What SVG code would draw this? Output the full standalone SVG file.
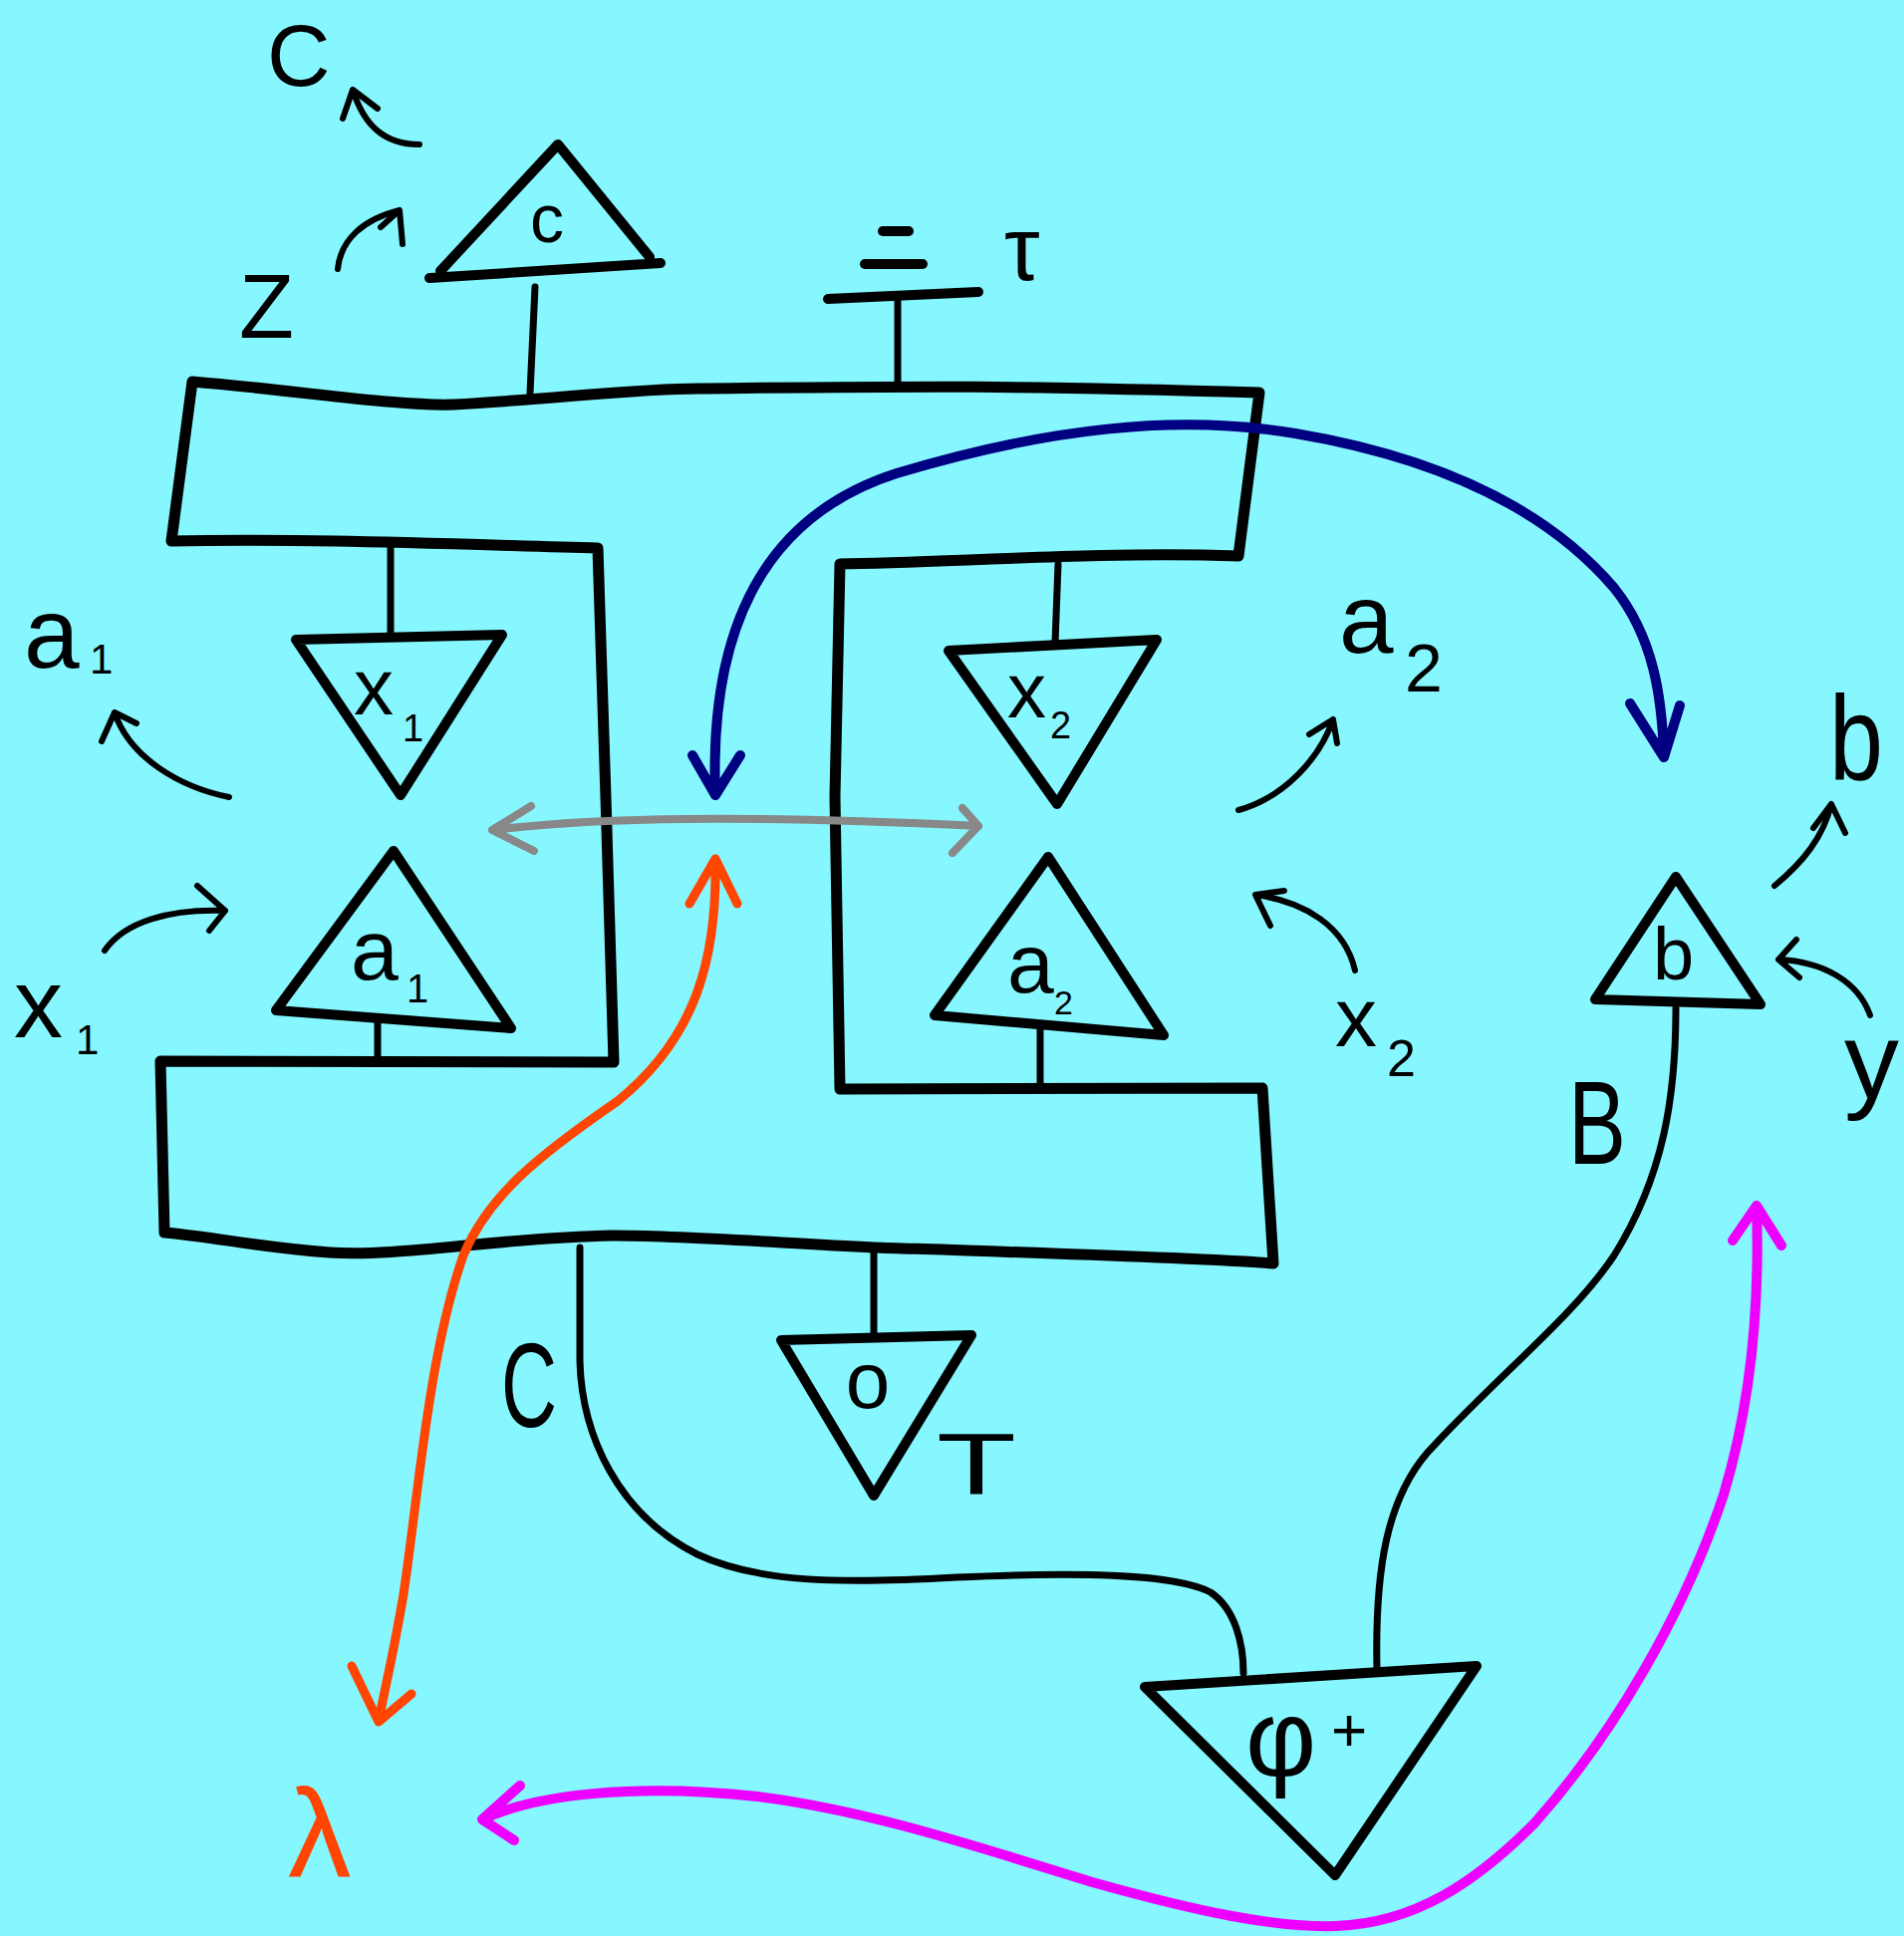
<svg xmlns="http://www.w3.org/2000/svg" width="1911" height="1943" viewBox="0 0 1911 1943">
<style>
.s{fill:none;stroke:#000;stroke-linecap:round;stroke-linejoin:round}
.big{stroke-width:11}
.tri{stroke-width:10}
.wire{stroke-width:7}
.arr{stroke-width:6}
.t{font-family:"Liberation Sans","DejaVu Sans",sans-serif;fill:#000}
.blue{fill:none;stroke:#000080;stroke-width:10;stroke-linecap:round;stroke-linejoin:round}
.orange{fill:none;stroke:#FF4500;stroke-width:9;stroke-linecap:round;stroke-linejoin:round}
.mag{fill:none;stroke:#EE00FF;stroke-width:10;stroke-linecap:round;stroke-linejoin:round}
.gray{fill:none;stroke:#888;stroke-width:8;stroke-linecap:round;stroke-linejoin:round}
</style>
<rect x="0" y="0" width="1911" height="1943" fill="#87F7FF"/>

<g id="frame">
<path class="s big" d="M193,383 C300,392 400,408 456,406 C560,400 640,390 701,390 C900,388 1000,386 1264,394 L1243,558 C1100,553 950,565 843,566 L838,800 L843,1093 L1267,1092 L1278,1268 C1200,1262 1000,1256 877,1252 C760,1246 680,1240 615,1240 C500,1242 400,1262 331,1257 C260,1252 220,1242 165,1237 L161,1065 L616,1066 L608,800 L600,550 C450,546 300,540 172,543 Z"/>
</g>

<g id="node-c">
<path class="s tri" d="M431,279 L663,264 M442,272 L560,145 L652,258"/>
<line class="s wire" x1="537" y1="288" x2="532" y2="394"/>
<text class="t" x="549" y="243" font-size="68" text-anchor="middle">c</text>
</g>

<g id="node-discard">
<line class="s tri" x1="886" y1="232" x2="912" y2="232"/>
<line class="s tri" x1="868" y1="265" x2="926" y2="265"/>
<line class="s tri" x1="831" y1="300" x2="982" y2="293"/>
<line class="s wire" x1="901" y1="302" x2="901" y2="383"/>
</g>

<g id="node-x1">
<path class="s tri" d="M297,642 L504,637 L402,798 Z"/>
<line class="s wire" x1="392" y1="550" x2="392" y2="637"/>
<text class="t" x="355" y="717" font-size="80">x<tspan x="404" y="744" font-size="38">1</tspan></text>
</g>

<g id="node-a1">
<path class="s tri" d="M395,854 L277,1014 L513,1032 Z"/>
<line class="s wire" x1="379" y1="1023" x2="379" y2="1066"/>
<text class="t" x="352" y="983" font-size="86">a<tspan x="408" y="1006" font-size="40">1</tspan></text>
</g>

<g id="node-x2">
<path class="s tri" d="M952,653 L1161,642 L1061,807 Z"/>
<line class="s wire" x1="1062" y1="566" x2="1059" y2="645"/>
<text class="t" x="1011" y="720" font-size="78">x<tspan x="1054" y="741" font-size="38">2</tspan></text>
</g>

<g id="node-a2">
<path class="s tri" d="M1052,860 L938,1019 L1168,1039 Z"/>
<line class="s wire" x1="1044" y1="1030" x2="1044" y2="1092"/>
<text class="t" x="1011" y="996" font-size="84">a<tspan x="1058" y="1018" font-size="34">2</tspan></text>
</g>

<g id="node-o">
<path class="s tri" d="M784,1345 L975,1340 L877,1501 Z"/>
<line class="s wire" x1="877" y1="1252" x2="877" y2="1342"/>
<text class="t" x="871" y="1413" font-size="80" text-anchor="middle">o</text>
</g>

<g id="node-b">
<path class="s tri" d="M1682,880 L1601,1003 L1767,1008 Z"/>
<text class="t" x="1659" y="983" font-size="74">b</text>
</g>

<g id="node-phi">
<path class="s tri" d="M1149,1693 L1482,1672 L1340,1882 Z"/>
<text class="t" x="1250" y="1782" font-size="110">φ<tspan x="1336" y="1757" font-size="62">+</tspan></text>
</g>

<g id="connectors">
<path class="s wire" d="M582,1252 L582,1366 C584,1440 620,1520 700,1560 C760,1588 840,1590 960,1583 C1090,1577 1180,1580 1215,1598 C1240,1615 1248,1650 1248,1679"/>
<path class="s wire" d="M1382,1675 C1380,1580 1390,1500 1440,1450 C1510,1375 1580,1320 1620,1260 C1670,1180 1682,1100 1682,1012"/>
<path class="s arr" d="M421,145 C385,145 365,125 354,90 M344,119 L354,90 L379,109"/>
<path class="s arr" d="M339,270 C342,240 365,220 401,211 M382,228 L401,211 L404,245"/>
<path class="s arr" d="M230,800 C180,790 130,760 115,715 M102,744 L115,715 L137,726"/>
<path class="s arr" d="M105,954 C125,925 170,912 226,914 M198,889 L226,914 L210,934"/>
<path class="s arr" d="M1243,813 C1290,800 1325,760 1338,722 M1314,737 L1338,722 L1342,746"/>
<path class="s arr" d="M1360,974 C1350,930 1310,905 1260,898 M1289,894 L1260,898 L1275,929"/>
<path class="s arr" d="M1781,889 C1810,865 1830,840 1838,807 M1820,831 L1838,807 L1852,836"/>
<path class="s arr" d="M1877,1019 C1865,985 1830,965 1785,963 M1803,943 L1785,963 L1806,981"/>
<path class="gray" d="M494,833 C600,820 750,818 982,829 M533,809 L494,833 L536,854 M966,811 L982,829 L956,856"/>
<path class="blue" d="M718,798 C712,640 760,520 900,475 C1050,430 1180,415 1300,435 C1460,462 1560,520 1620,590 C1660,640 1668,700 1670,758 M695,758 L718,798 L743,758 M1636,706 L1670,760 L1686,708"/>
<path class="orange" d="M718,862 C720,960 700,1040 620,1105 C540,1160 490,1200 465,1260 C430,1360 420,1500 405,1600 C395,1660 385,1700 380,1728 M692,907 L718,862 L740,907 M353,1672 L380,1728 L413,1700"/>
<path class="mag" d="M484,1826 C540,1800 640,1790 760,1803 C880,1818 1000,1860 1100,1890 C1200,1918 1280,1935 1341,1933 C1420,1930 1480,1890 1540,1830 C1620,1740 1690,1620 1730,1500 C1760,1400 1766,1300 1763,1212 M522,1792 L484,1826 L516,1847 M1739,1245 L1763,1210 L1788,1250"/>
</g>

<g id="labels">
<text class="t" x="268" y="86" font-size="88">C</text>
<text class="t" x="240" y="339" font-size="90">Z</text>
<text class="t" x="1008" y="281" font-size="90">τ</text>
<text class="t" x="24" y="670" font-size="100">a<tspan x="90" y="676" font-size="42">1</tspan></text>
<text class="t" x="14" y="1041" font-size="98">x<tspan x="76" y="1058" font-size="42">1</tspan></text>
<text class="t" x="1344" y="655" font-size="98">a<tspan x="1410" y="694" font-size="68">2</tspan></text>
<text class="t" x="1340" y="1050" font-size="84">x<tspan x="1392" y="1080" font-size="52">2</tspan></text>
<text class="t" x="1836" y="782" font-size="120" textLength="54" lengthAdjust="spacingAndGlyphs">b</text>
<text class="t" x="1851" y="1102" font-size="110">y</text>
<text class="t" x="1574" y="1168" font-size="118" textLength="58" lengthAdjust="spacingAndGlyphs">B</text>
<text class="t" x="503" y="1432" font-size="120" textLength="56" lengthAdjust="spacingAndGlyphs">C</text>
<text class="t" x="940" y="1499" font-size="87" textLength="80" lengthAdjust="spacingAndGlyphs">T</text>
<text class="t" x="289" y="1884" font-size="127" style="fill:#FF4500">λ</text>
</g>
</svg>
